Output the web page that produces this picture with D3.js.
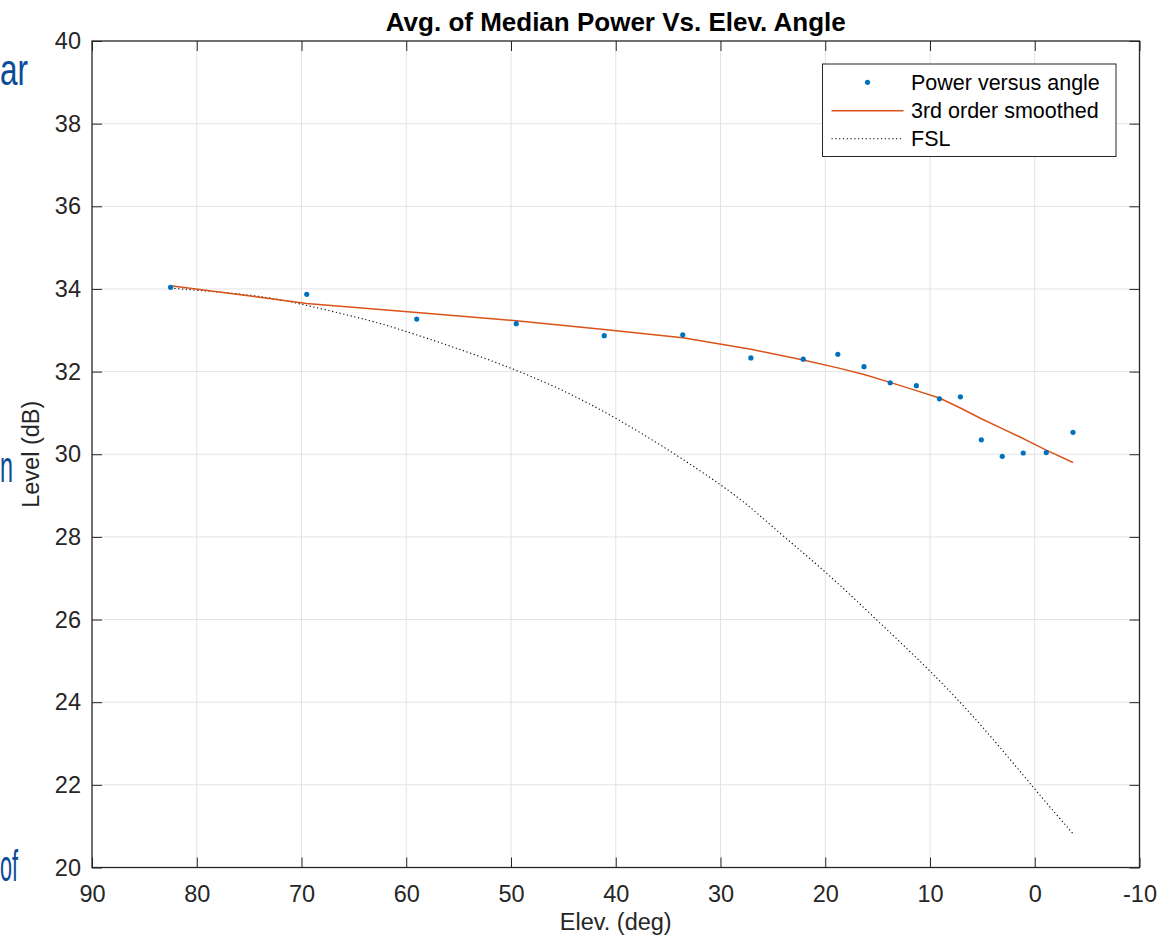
<!DOCTYPE html>
<html>
<head>
<meta charset="utf-8">
<script src="https://cdn.jsdelivr.net/npm/d3@7"></script>
<style>
  html, body { margin: 0; padding: 0; background: #fff; }
  svg { display: block; }
  text { font-family: "Liberation Sans", Arial, Helvetica, sans-serif; }
</style>
</head>
<body>
<svg id="chart" width="1167" height="938"></svg>
<script>
// ---- data ----
const pointElev  = [82.5, 69.5, 59.0, 49.5, 41.1, 33.6, 27.1, 22.1, 18.8, 16.3, 13.8, 11.3, 9.1, 7.1, 5.1, 3.1, 1.1, -1.1, -3.65];
const pointLevel = [34.04, 33.87, 33.27, 33.16, 32.87, 32.89, 32.33, 32.30, 32.42, 32.12, 31.73, 31.66, 31.34, 31.39, 30.35, 29.95, 30.03, 30.04, 30.53];

// smoothed values at each measured elevation
const smoothLevel = [34.08, 33.65, 33.43, 33.23, 33.02, 32.82, 32.54, 32.28, 32.09, 31.93, 31.74, 31.54, 31.36, 31.12, 30.86, 30.62, 30.38, 30.10, 29.80];

const fslElev  = [82.5, 75, 70, 65, 60, 50, 40, 30, 25, 20, 15, 10, 5, 0, -3.65];
const fslLevel = [34.02, 33.85, 33.63, 33.33, 32.97, 32.08, 30.87, 29.26, 28.24, 27.15, 25.97, 24.75, 23.40, 21.90, 20.82];

const xTicks = [90, 80, 70, 60, 50, 40, 30, 20, 10, 0, -10];
const yTicks = [20, 22, 24, 26, 28, 30, 32, 34, 36, 38, 40];

const titleText  = "Avg. of Median Power Vs. Elev. Angle";
const xLabelText = "Elev. (deg)";
const yLabelText = "Level (dB)";
const legendLabels = ["Power versus angle", "3rd order smoothed", "FSL"];
const slideFragments = ["ar", "n", "of"];

// ---- layout ----
const L = 92, R = 1139.5, T = 41, B = 867.5;
const svg = d3.select("#chart");

const x = d3.scaleLinear().domain([90, -10]).range([L, R]);
const y = d3.scaleLinear().domain([20, 40]).range([B, T]);

const axisColor = "#262626";
const gridColor = "#e3e3e3";

// background slide fragments at the left edge
const slideColor = "#0b4a96";
const fragPos = [{y: 85, w: 28}, {y: 482, w: 13}, {y: 881, w: 18}];
svg.append("g").selectAll("text").data(slideFragments).join("text")
  .attr("x", 0).attr("y", (d, i) => fragPos[i].y)
  .attr("textLength", (d, i) => fragPos[i].w).attr("lengthAdjust", "spacingAndGlyphs")
  .attr("font-size", 44).attr("fill", slideColor).text(d => d);

// plot background
svg.append("rect").attr("x", L).attr("y", T).attr("width", R - L).attr("height", B - T).attr("fill", "#fff");

// grid
const grid = svg.append("g");
grid.selectAll("line.gx").data(xTicks.slice(1, -1)).join("line")
  .attr("x1", d => x(d)).attr("x2", d => x(d)).attr("y1", T).attr("y2", B)
  .attr("stroke", gridColor).attr("stroke-width", 1);
grid.selectAll("line.gy").data(yTicks.slice(1, -1)).join("line")
  .attr("y1", d => y(d)).attr("y2", d => y(d)).attr("x1", L).attr("x2", R)
  .attr("stroke", gridColor).attr("stroke-width", 1);

// axes (bottom, left with labels; top, right ticks only)
const tickLen = 10;
const fs = 23.5;
const fmt = d => String(d);
const gx = svg.append("g").attr("transform", `translate(0,${B})`)
  .call(d3.axisBottom(x).tickValues(xTicks).tickSizeInner(-tickLen).tickSizeOuter(0).tickPadding(tickLen + 8).tickFormat(fmt));
const gy = svg.append("g").attr("transform", `translate(${L},0)`)
  .call(d3.axisLeft(y).tickValues(yTicks).tickSizeInner(-tickLen).tickSizeOuter(0).tickPadding(tickLen + 1).tickFormat(fmt));
const gt = svg.append("g").attr("transform", `translate(0,${T})`)
  .call(d3.axisTop(x).tickValues(xTicks).tickSizeInner(-tickLen).tickSizeOuter(0).tickFormat(""));
const gr = svg.append("g").attr("transform", `translate(${R},0)`)
  .call(d3.axisRight(y).tickValues(yTicks).tickSizeInner(-tickLen).tickSizeOuter(0).tickFormat(""));
[gx, gy, gt, gr].forEach(g => {
  g.select(".domain").remove();
  g.selectAll(".tick line").attr("stroke", axisColor).attr("stroke-width", 1);
  g.selectAll(".tick text").attr("fill", axisColor).attr("font-size", fs)
    .attr("font-family", '"Liberation Sans", Arial, sans-serif');
});
gx.selectAll(".tick text").attr("dy", "0.71em");
// box
svg.append("rect").attr("x", L).attr("y", T).attr("width", R - L).attr("height", B - T)
  .attr("fill", "none").attr("stroke", axisColor).attr("stroke-width", 1.3);

// lines
const smooth = pointElev.map((e, i) => [e, smoothLevel[i]]);
const fsl = fslElev.map((e, i) => [e, fslLevel[i]]);
const lineLin = d3.line().x(d => x(d[0])).y(d => y(d[1]));
const lineNat = d3.line().x(d => x(d[0])).y(d => y(d[1])).curve(d3.curveNatural);

svg.append("path").datum(fsl).attr("d", lineNat)
  .attr("fill", "none").attr("stroke", "#000").attr("stroke-width", 1.1)
  .attr("stroke-dasharray", "1.2,2.6");
svg.append("path").datum(smooth).attr("d", lineLin)
  .attr("fill", "none").attr("stroke", "#D95319").attr("stroke-width", 1.5)
  .attr("stroke-linejoin", "round");

// points
svg.append("g").selectAll("circle").data(pointElev.map((e, i) => [e, pointLevel[i]])).join("circle")
  .attr("cx", d => x(d[0])).attr("cy", d => y(d[1])).attr("r", 2.6).attr("fill", "#0072BD");

// title & labels
svg.append("text").attr("x", (L + R) / 2).attr("y", 31).attr("text-anchor", "middle")
  .attr("font-size", 26).attr("font-weight", "bold").attr("fill", "#000").text(titleText);
svg.append("text").attr("x", (L + R) / 2).attr("y", 930).attr("text-anchor", "middle")
  .attr("font-size", fs).attr("fill", axisColor).text(xLabelText);
svg.append("text").attr("transform", `translate(39,${(T + B) / 2}) rotate(-90)`).attr("text-anchor", "middle")
  .attr("font-size", fs).attr("fill", axisColor).text(yLabelText);

// legend
const lg = svg.append("g");
lg.append("rect").attr("x", 822.5).attr("y", 64).attr("width", 293.5).attr("height", 92.5)
  .attr("fill", "#fff").attr("stroke", axisColor).attr("stroke-width", 1);
const rowY = [82.3, 110.7, 138.7];
const lx1 = 831.5, lx2 = 903.5, tx = 911;
lg.append("circle").attr("cx", (lx1 + lx2) / 2).attr("cy", rowY[0]).attr("r", 2.6).attr("fill", "#0072BD");
lg.append("line").attr("x1", lx1).attr("x2", lx2).attr("y1", rowY[1]).attr("y2", rowY[1])
  .attr("stroke", "#D95319").attr("stroke-width", 1.5);
lg.append("line").attr("x1", lx1).attr("x2", lx2).attr("y1", rowY[2]).attr("y2", rowY[2])
  .attr("stroke", "#000").attr("stroke-width", 1.1).attr("stroke-dasharray", "1.2,2.6");
lg.selectAll("text.lt").data(legendLabels).join("text")
  .attr("x", tx).attr("y", (d, i) => rowY[i]).attr("dy", "0.35em")
  .attr("font-size", 21.5).attr("fill", "#000").text(d => d);
</script>
</body>
</html>
